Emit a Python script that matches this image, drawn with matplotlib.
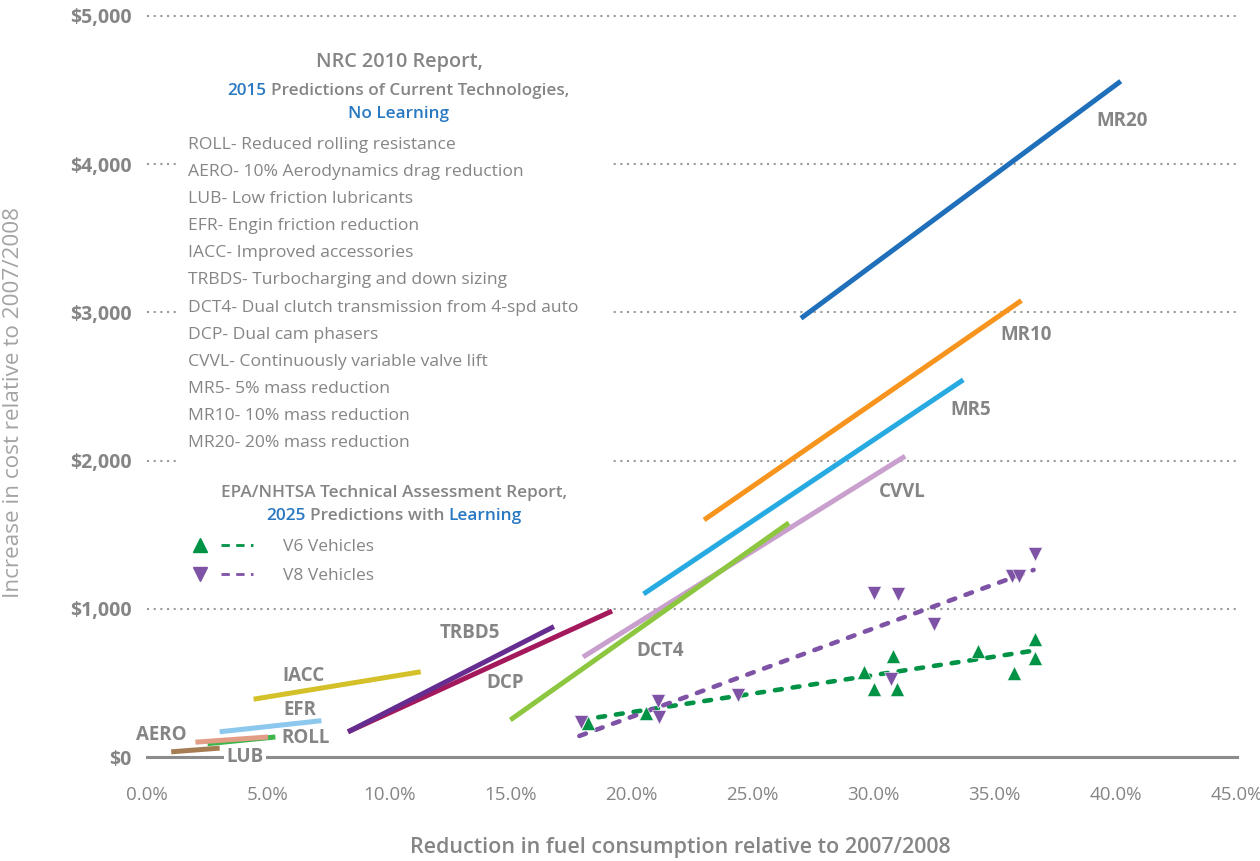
import matplotlib
matplotlib.use("Agg")
import matplotlib.pyplot as plt
from matplotlib.lines import Line2D
from matplotlib.patches import Rectangle
from matplotlib.legend_handler import HandlerTuple

plt.rcParams['font.family'] = ['Open Sans', 'DejaVu Sans']

# NRC 2010 technology cost lines (fuel reduction %, cost $)
tech_names = ['LUB', 'ROLL', 'AERO', 'EFR', 'IACC', 'DCP', 'TRBD5', 'CVVL', 'DCT4', 'MR5', 'MR10', 'MR20']
tech_colors = ['#a67c52', '#39b54a', '#e29d87', '#8cc8ee', '#d4c12a', '#a3195b', '#662d91',
               '#c9a0cd', '#8dc63f', '#27aae1', '#f7941d', '#1f6fba']
x_start = [1.0, 2.5, 2.0, 3.0, 4.4, 8.3, 8.3, 18.0, 15.0, 20.5, 23.0, 27.0]
x_end = [3.0, 5.3, 5.0, 7.2, 11.3, 19.2, 16.8, 31.3, 26.5, 33.7, 36.1, 40.2]
cost_start = [35, 90, 100, 170, 390, 170, 170, 675, 250, 1100, 1600, 2960]
cost_end = [60, 135, 135, 245, 575, 985, 880, 2030, 1580, 2545, 3080, 4560]

# label anchor points for each technology line
label_x = [4.05, 6.55, 0.6, 6.3, 6.45, 14.8, 13.35, 31.2, 21.2, 34.0, 36.3, 40.25]
label_y = [0, 128, 148, 317, 547, 499, 837, 1788, 715, 2341, 2848, 4291]

# EPA/NHTSA 2025 estimates
v6_x = [18.2, 20.6, 29.6, 30.0, 30.8, 30.95, 34.3, 35.8, 36.65, 36.65]
v6_y = [230, 300, 575, 460, 680, 460, 715, 570, 795, 670]
v8_x = [17.9, 21.1, 21.15, 24.4, 30.0, 31.0, 32.5, 30.7, 35.7, 36.0, 36.65]
v8_y = [235, 380, 270, 420, 1105, 1100, 900, 525, 1220, 1220, 1370]
v6_trend_x = [17.9, 36.5]
v6_trend_y = [250, 715]
v8_trend_x = [17.85, 36.6]
v8_trend_y = [142, 1262]

legend_lines = [
    'ROLL- Reduced rolling resistance',
    'AERO- 10% Aerodynamics drag reduction',
    'LUB- Low friction lubricants',
    'EFR- Engin friction reduction',
    'IACC- Improved accessories',
    'TRBDS- Turbocharging and down sizing',
    'DCT4- Dual clutch transmission from 4-spd auto',
    'DCP- Dual cam phasers',
    'CVVL- Continuously variable valve lift',
    'MR5- 5% mass reduction',
    'MR10- 10% mass reduction',
    'MR20- 20% mass reduction',
]

x_ticks = [0, 5, 10, 15, 20, 25, 30, 35, 40, 45]
x_ticklabels = ['0.0%', '5.0%', '10.0%', '15.0%', '20.0%', '25.0%', '30.0%', '35.0%', '40.0%', '45.0%']
y_ticks = [0, 1000, 2000, 3000, 4000, 5000]
y_ticklabels = ['$0', '$1,000', '$2,000', '$3,000', '$4,000', '$5,000']

GRAY = '#858585'
LIGHT = '#a3a3a3'
BLUE = '#2878c2'
V6C = '#009245'
V8C = '#7e52a5'

W, H = 1260, 861
fig = plt.figure(figsize=(W / 100, H / 100), dpi=100)
y_top = 5050
px_per_dollar = (757 - 16) / 5000
top_px = 757 - y_top * px_per_dollar
ax_h = 757 - top_px
ax = fig.add_axes([147 / W, 1 - 757 / H, (1237 - 147) / W, ax_h / H])
ax.set_xlim(0, 45)
ax.set_ylim(0, y_top)

for s in ['top', 'right', 'left']:
    ax.spines[s].set_visible(False)
ax.spines['bottom'].set_color('#8c8c8c')
ax.spines['bottom'].set_linewidth(2.2)
ax.spines['bottom'].set_zorder(2.5)

ax.set_axisbelow(True)
ax.set_yticks(y_ticks)
ax.set_yticklabels(y_ticklabels, fontsize=14, fontweight='bold', color=GRAY)
ax.set_xticks(x_ticks)
ax.set_xticklabels(x_ticklabels, fontsize=13.5, color=GRAY)
ax.tick_params(axis='y', length=0, pad=11)
ax.tick_params(axis='x', length=0, pad=21)
ax.yaxis.grid(True, linestyle=(0, (1, 2.2)), color='#9a9a9a', linewidth=1.5)

# blank area behind the technology list
ax.add_patch(Rectangle((1.35, 1935), 17.85, 2900, facecolor='white', edgecolor='none', zorder=1))

for i, name in enumerate(tech_names):
    ax.plot([x_start[i], x_end[i]], [cost_start[i], cost_end[i]], color=tech_colors[i],
            lw=3.6, solid_capstyle='butt', zorder=2)
    bbox = dict(facecolor='white', edgecolor='none', pad=1.5) if name == 'LUB' else None
    ax.text(label_x[i], label_y[i], name, fontsize=13.5, fontweight='bold', color=GRAY,
            ha='center', va='center', zorder=4, bbox=bbox, clip_on=False)

ax.plot(v6_trend_x, v6_trend_y, color=V6C, lw=3.3, linestyle=(0, (1.5, 2.4)),
        dash_capstyle='round', zorder=3)
ax.plot(v8_trend_x, v8_trend_y, color=V8C, lw=3.3, linestyle=(0, (1.5, 2.4)),
        dash_capstyle='round', zorder=3)
ax.plot(v6_x, v6_y, linestyle='none', marker='^', ms=9.5, color=V6C, mec='white', mew=0.4, zorder=3)
ax.plot(v8_x, v8_y, linestyle='none', marker='v', ms=9.5, color=V8C, mec='white', mew=0.4, zorder=3)

ax.set_xlabel('Reduction in fuel consumption relative to 2007/2008', fontsize=15.5,
              fontweight='semibold', color=GRAY, va='center')
ax.xaxis.set_label_coords((680 - 147) / 1090, -(848 - 757) / ax_h)
ax.set_ylabel('Increase in cost relative to 2007/2008', fontsize=16.2, color=LIGHT)
ax.yaxis.set_label_coords(-(147 - 24) / 1090, (757 - 403) / ax_h)

renderer = fig.canvas.get_renderer()


def rich_line(xc, yc, parts, size, weight):
    """Centre a line of differently coloured words at pixel (xc, yc)."""
    texts = [fig.text(0, 1 - (yc + 5) / H, s, color=c, fontsize=size, fontweight=weight,
                      ha='left', va='baseline') for s, c in parts]
    a = fig.text(0, 0, 'a a', fontsize=size, fontweight=weight)
    b = fig.text(0, 0, 'aa', fontsize=size, fontweight=weight)
    gap = a.get_window_extent(renderer).width - b.get_window_extent(renderer).width
    a.remove()
    b.remove()
    widths = [t.get_window_extent(renderer).width for t in texts]
    x = xc - (sum(widths) + gap * (len(parts) - 1)) / 2
    for t, w in zip(texts, widths):
        t.set_x(x / W)
        x += w + gap


rich_line(399, 62, [('NRC 2010 Report,', GRAY)], 14.3, 'semibold')
rich_line(398, 90, [('2015', BLUE), ('Predictions of Current Technologies,', GRAY)], 12.3, 'semibold')
rich_line(398, 113, [('No Learning', BLUE)], 12.3, 'semibold')
for k, line in enumerate(legend_lines):
    fig.text(188 / W, 1 - (145 + k * 27.1) / H, line, fontsize=12.6, color=GRAY,
             ha='left', va='center')

rich_line(394, 492, [('EPA/NHTSA Technical Assessment Report,', GRAY)], 12.4, 'semibold')
rich_line(394, 515, [('2025', BLUE), ('Predictions with', GRAY), ('Learning', BLUE)], 12.4, 'semibold')

h6 = (Line2D([], [], ls='none', marker='^', ms=9.5, color=V6C),
      Line2D([], [], ls=(0, (3, 2.3)), lw=2, color=V6C))
h8 = (Line2D([], [], ls='none', marker='v', ms=9.5, color=V8C),
      Line2D([], [], ls=(0, (3, 2.3)), lw=2, color=V8C))
fig.legend([h6, h8], ['V6 Vehicles', 'V8 Vehicles'],
           handler_map={tuple: HandlerTuple(ndivide=None, pad=0.3)},
           loc='upper left', bbox_to_anchor=(184 / W, 1 - 539 / H), frameon=False,
           fontsize=12.5, labelcolor=GRAY, handlelength=4.0, handletextpad=1.7,
           labelspacing=0.72, borderpad=0, borderaxespad=0)

fig.savefig('out.png', dpi=100)
